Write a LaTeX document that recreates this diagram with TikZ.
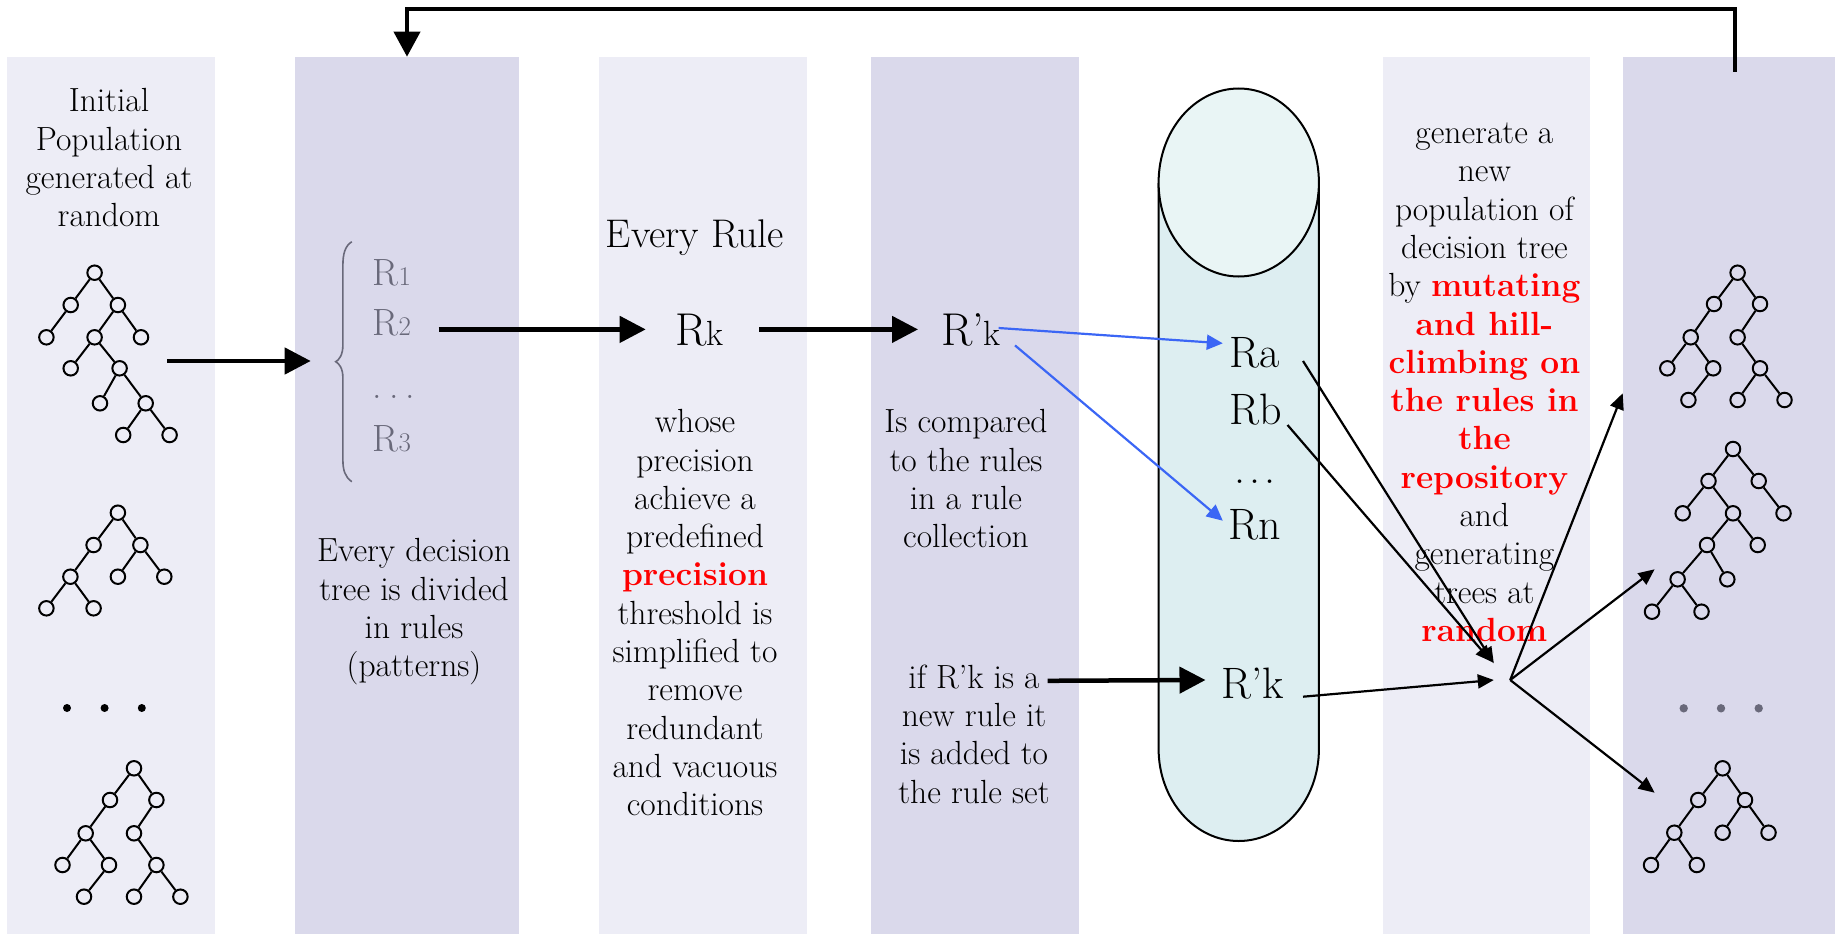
\documentclass[tikz,border=0pt]{standalone}
\usetikzlibrary{arrows.meta}
\definecolor{lightpanel}{RGB}{237,237,246}
\definecolor{darkpanel}{RGB}{218,217,235}
\definecolor{cylbody}{RGB}{221,238,241}
\definecolor{cyltop}{RGB}{233,245,245}
\definecolor{bluearr}{RGB}{59,102,245}
\definecolor{graytxt}{RGB}{105,105,122}
\newcommand\bodyfont{\fontsize{33.5}{38.3}\selectfont}
\newcommand\bigRfont{\fontsize{44}{50}\selectfont}
\newcommand\hugeRfont{\fontsize{46}{52}\selectfont}
\newcommand\smkfont{\fontsize{35}{40}\selectfont}
\newcommand\rulefont{\fontsize{38}{44}\selectfont}
\newcommand\digfont{\fontsize{27}{32}\selectfont}
\newcommand\redb[1]{\textcolor{red}{\textbf{#1}}}
\begin{document}
\begin{tikzpicture}[x=1pt,y=-1pt,
  txt/.style={align=center, inner sep=0pt, anchor=north, font=\bodyfont},
  bigr/.style={inner sep=0pt, anchor=base, font=\bigRfont},
  rule/.style={inner sep=0pt, anchor=base west, font=\rulefont, text=graytxt},
  tn/.style={circle, draw, line width=2pt, minimum size=14.5pt, inner sep=0pt},
  te/.style={line width=2pt},
  thickarr/.style={line width=4.5pt, -{Triangle[length=26pt,width=26pt]}},
  thinarr/.style={line width=2.2pt, -{Triangle[length=16pt,width=14pt]}},
  bluearrow/.style={line width=2.2pt, draw=bluearr, -{Triangle[length=16pt,width=15pt]}, bluearr}]
\useasboundingbox (0,0) rectangle (1835,934);
% panels
\fill[lightpanel] (7,57) rectangle (215,934);
\fill[darkpanel] (295,57) rectangle (519,934);
\fill[lightpanel] (599,57) rectangle (807,934);
\fill[darkpanel] (871,57) rectangle (1079,934);
\fill[lightpanel] (1383,57) rectangle (1590,934);
\fill[darkpanel] (1623,57) rectangle (1835,934);
% cylinder
\fill[cylbody] (1158.6,183) -- (1158.6,749) .. controls (1158.6,799.8) and (1194.5,841) .. (1238.75,841) .. controls (1283,841) and (1318.9,799.8) .. (1318.9,749) -- (1318.9,183) -- cycle;
\draw[line width=2pt] (1158.6,183) -- (1158.6,749) .. controls (1158.6,799.8) and (1194.5,841) .. (1238.75,841) .. controls (1283,841) and (1318.9,799.8) .. (1318.9,749) -- (1318.9,183);
\filldraw[fill=cyltop, line width=2pt] (1238.75,182.5) ellipse [x radius=80.15, y radius=94];
% texts
\node[txt] (init) at (109,84.9) {\strut Initial\\Population\\generated at\\random};
\node[txt] (divided) at (414,534.9) {\strut Every decision\\tree is divided\\in rules\\(patterns)};
\node[inner sep=0pt, anchor=base, font=\fontsize{40}{46}\selectfont] (every) at (695,247.3) {Every Rule};
\node[txt] (whose) at (695,405.7) {\strut whose\\precision\\achieve a\\predefined\\\redb{precision}\\threshold is\\simplified to\\remove\\redundant\\and vacuous\\conditions};
\node[txt] (compared) at (966,405.7) {\strut Is compared\\to the rules\\in a rule\\collection};
\node[txt] (ifnew) at (974,661.2) {\strut if R’k is a\\new rule it\\is added to\\the rule set};
\node[txt] (generate) at (1484.4,116.5) {\strut generate a\\new\\population of\\decision tree\\by \redb{mutating}\\\redb{and hill-}\\\redb{climbing on}\\\redb{the rules in}\\\redb{the}\\\redb{repository}\\and\\generating\\trees at\\\redb{random}};
% rule list
\node[rule] (r1) at (372.5,285) {R{\digfont 1}};
\node[rule] (r2) at (372.5,335) {R{\digfont 2}};
\node[rule] (rdots) at (372.5,398) {.\kern7pt.\kern7pt.};
\node[rule] (r3) at (372.5,451.7) {R{\digfont 3}};
\draw[graytxt, line width=1.6pt] (351.8,241.7) .. controls (345,246) and (342.9,254) .. (342.9,265) -- (342.9,345) .. controls (342.9,355) and (339,360) .. (335.7,361.7) .. controls (339,363.5) and (342.9,368) .. (342.9,378) -- (342.9,460) .. controls (342.9,470) and (345,477) .. (351.8,481.7);
\node[inner sep=0pt, anchor=base, font=\hugeRfont] (rk) at (699.6,345) {R{\smkfont k}};
\node[inner sep=0pt, anchor=base, font=\hugeRfont] (rpk) at (971,345) {R’{\smkfont k}};
\node[bigr] (ra) at (1255,367) {Ra};
\node[bigr] (rb) at (1256,424) {Rb};
\node[bigr] (rn3) at (1255,483) {.\kern4pt.\kern4pt.};
\node[bigr] (rn) at (1255,539) {Rn};
\node[bigr] (rpk2) at (1253,698) {R’k};
% trees
\foreach \n/\x/\y in {t1a/94.6/272.7, t1b/70.7/305, t1c/117.9/305, t1d/46.4/337.3, t1e/94.6/337.3, t1f/141/337.3, t1g/70.7/368.3, t1h/119.6/368.3, t1i/100/403.3, t1j/145.7/403.3, t1k/123.2/435, t1l/169.6/435,
  t2a/117.9/512.7, t2b/93.6/545, t2c/140.4/545, t2d/70.4/576.7, t2e/117.9/576.7, t2f/164.3/576.7, t2g/46.4/608.3, t2h/93.6/608.3,
  t3a/134/768.3, t3b/110/800, t3c/156.4/800, t3d/85.7/833.3, t3e/134/833.3, t3f/62.5/865, t3g/109/865, t3h/156.4/865, t3i/84/896.7, t3j/134/896.7, t3k/180.4/896.7,
  r1a/1737.6/272.7, r1b/1714/304, r1c/1760/304, r1d/1690.7/337.3, r1e/1737.6/337.3, r1f/1667.3/368.3, r1g/1713.2/368.3, r1h/1760/368.3, r1i/1688.4/400, r1j/1737.6/400, r1k/1784.5/400,
  r2a/1733/449, r2b/1708.5/481, r2c/1758.7/481, r2d/1682.7/513.3, r2e/1733/513.3, r2f/1783.5/513.3, r2g/1707/545, r2h/1757.7/545, r2i/1677.6/579.3, r2j/1727.3/579.3, r2k/1652/611.7, r2l/1701.5/611.7,
  r3a/1722.6/768.3, r3b/1698.2/800, r3c/1745/800, r3d/1674.3/832.7, r3e/1722.6/832.7, r3f/1768.5/832.7, r3g/1651/865, r3h/1696.8/865}
  \node[tn] (\n) at (\x,\y) {};
\foreach \a/\b in {t1a/t1b, t1a/t1c, t1b/t1d, t1c/t1e, t1c/t1f, t1e/t1g, t1e/t1h, t1h/t1i, t1h/t1j, t1j/t1k, t1j/t1l,
  t2a/t2b, t2a/t2c, t2b/t2d, t2c/t2e, t2c/t2f, t2d/t2g, t2d/t2h,
  t3a/t3b, t3a/t3c, t3b/t3d, t3c/t3e, t3d/t3f, t3d/t3g, t3e/t3h, t3g/t3i, t3h/t3j, t3h/t3k,
  r1a/r1b, r1a/r1c, r1b/r1d, r1c/r1e, r1d/r1f, r1d/r1g, r1e/r1h, r1g/r1i, r1h/r1j, r1h/r1k,
  r2a/r2b, r2a/r2c, r2b/r2d, r2b/r2e, r2c/r2f, r2e/r2g, r2e/r2h, r2g/r2i, r2g/r2j, r2i/r2k, r2i/r2l,
  r3a/r3b, r3a/r3c, r3b/r3d, r3c/r3e, r3c/r3f, r3d/r3g, r3d/r3h}
  \draw[te] (\a) -- (\b);
% dots
\foreach \x in {67,104.6,141.8} \fill (\x,708) circle[radius=4];
\foreach \x in {1683.7,1721,1758.7} \fill[graytxt] (\x,708.3) circle[radius=4.2];
% connector coordinates
\coordinate (fbs) at (1735.3,71.7);
\coordinate (fb1) at (1735.3,9.3);
\coordinate (fb2) at (407,9.3);
\coordinate (fbe) at (407,56.7);
\coordinate (a1s) at (167,361);
\coordinate (a1e) at (310.7,361);
\coordinate (a2s) at (438.6,329.4);
\coordinate (a2e) at (645.7,329.4);
\coordinate (a3s) at (759,329.4);
\coordinate (a3e) at (918,329.4);
\coordinate (b1s) at (998.6,328);
\coordinate (b1e) at (1222.8,343.3);
\coordinate (b2s) at (1015,345.4);
\coordinate (b2e) at (1222.8,520.7);
\coordinate (a4s) at (1047.5,680.8);
\coordinate (a4e) at (1205.5,680);
\coordinate (ras) at (1303,361);
\coordinate (rbs) at (1287.5,425);
\coordinate (rks) at (1303,696.7);
\coordinate (hubin1) at (1493.8,663.3);
\coordinate (hubin2) at (1491.5,661.7);
\coordinate (hubin3) at (1493.8,680);
\coordinate (hub) at (1510.2,680);
\coordinate (o1) at (1622.7,393.3);
\coordinate (o2) at (1654.6,569.3);
\coordinate (o3) at (1654.6,792.7);
% connectors
\draw[line width=4pt, -{Triangle[length=25pt,width=26pt]}] (fbs) -- (fb1) -- (fb2) -- (fbe);
\draw[thickarr] (a1s) -- (a1e);
\draw[thickarr] (a2s) -- (a2e);
\draw[thickarr] (a3s) -- (a3e);
\draw[thickarr] (a4s) -- (a4e);
\draw[bluearrow] (b1s) -- (b1e);
\draw[bluearrow] (b2s) -- (b2e);
\draw[thinarr] (ras) -- (hubin1);
\draw[thinarr] (rbs) -- (hubin2);
\draw[thinarr] (rks) -- (hubin3);
\draw[thinarr] (hub) -- (o1);
\draw[thinarr] (hub) -- (o2);
\draw[thinarr] (hub) -- (o3);
\end{tikzpicture}
\end{document}
